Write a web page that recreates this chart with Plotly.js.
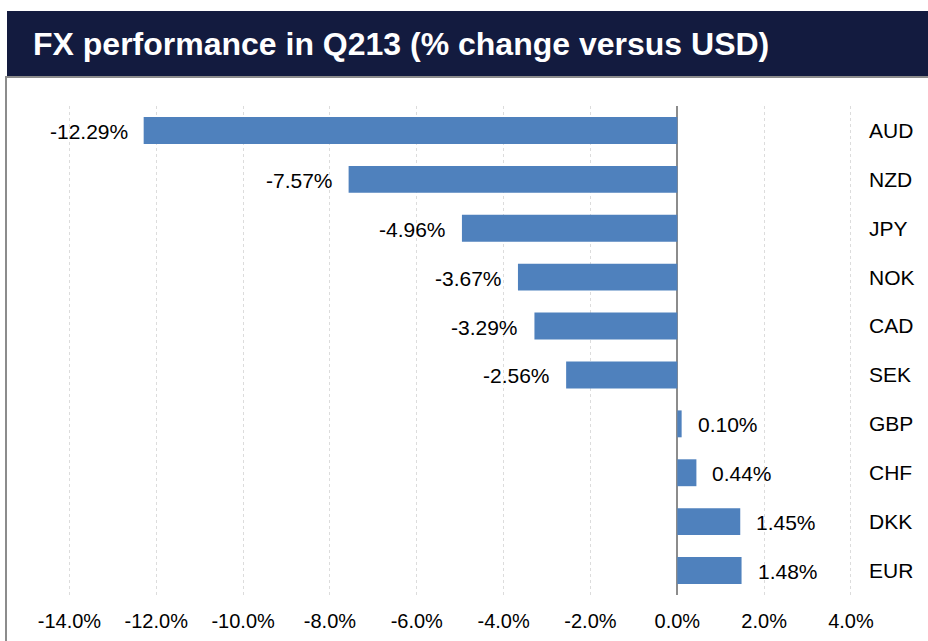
<!DOCTYPE html>
<html>
<head>
<meta charset="utf-8">
<script src="https://cdn.plot.ly/plotly-3.0.1.min.js"></script>
<style>
  html, body { margin: 0; padding: 0; background: #ffffff; }
  #chart { width: 928px; height: 641px; }
</style>
</head>
<body>
<div id="chart"></div>
<script>
// Data
const currencies = ["AUD", "NZD", "JPY", "NOK", "CAD", "SEK", "GBP", "CHF", "DKK", "EUR"];
const changePct = [-12.29, -7.57, -4.96, -3.67, -3.29, -2.56, 0.10, 0.44, 1.45, 1.48];
const xTickVals = [-14, -12, -10, -8, -6, -4, -2, 0, 2, 4];
const xTickText = xTickVals.map(v => v.toFixed(1) + '%');
const titleText = "FX performance in Q213 (% change versus USD)";

// Layout geometry (pixels)
const W = 928, H = 641;
const L = 26, R = 864, T = 106, B = 595;
const pw = R - L, ph = B - T;
const px = v => (v - L) / pw;
const py = v => (B - v) / ph;

const FONT = '"Liberation Sans", Arial, sans-serif';

const trace = {
  type: 'bar',
  orientation: 'h',
  x: changePct,
  y: currencies,
  width: 0.55,
  marker: { color: '#4F81BD', line: { width: 0 } },
  hoverinfo: 'x+y'
};

const annotations = changePct.map((v, i) => ({
  x: v,
  y: currencies[i],
  xref: 'x',
  yref: 'y',
  text: v.toFixed(2) + '%',
  showarrow: false,
  xanchor: v < 0 ? 'right' : 'left',
  xshift: v < 0 ? -14 : 14,
  yshift: -1,
  font: { family: FONT, size: 21, color: '#000000' }
}));

const layout = {
  width: W,
  height: H,
  margin: { l: L, r: W - R, t: T, b: H - B, pad: 0 },
  paper_bgcolor: '#ffffff',
  plot_bgcolor: '#ffffff',
  showlegend: false,
  title: {
    text: titleText,
    x: 33 / W,
    xanchor: 'left',
    xref: 'container',
    y: 1 - 44 / H,
    yanchor: 'middle',
    yref: 'container',
    font: { family: FONT, size: 32, color: '#ffffff', weight: 'bold' }
  },
  xaxis: {
    range: [-15, 4.3],
    tickmode: 'array',
    tickvals: xTickVals,
    ticktext: xTickText,
    showgrid: true,
    gridcolor: '#dcdcdc',
    griddash: 'dot',
    gridwidth: 1,
    zeroline: true,
    zerolinecolor: '#8c8c8c',
    zerolinewidth: 2,
    showline: false,
    ticks: '',
    ticklabelstandoff: 12,
    tickfont: { family: FONT, size: 20, color: '#000000' },
    fixedrange: true
  },
  yaxis: {
    type: 'category',
    categoryorder: 'array',
    categoryarray: currencies,
    range: [9.5, -0.5],
    side: 'right',
    showgrid: false,
    zeroline: false,
    showline: false,
    ticks: '',
    ticklabelstandoff: 4,
    tickfont: { family: FONT, size: 21, color: '#000000' },
    fixedrange: true
  },
  shapes: [
    {
      type: 'rect', xref: 'paper', yref: 'paper',
      x0: px(7), x1: px(930), y0: py(76), y1: py(11),
      fillcolor: '#131B3F', line: { width: 0 }, layer: 'below'
    },
    {
      type: 'line', xref: 'paper', yref: 'paper',
      x0: px(5), x1: px(930), y0: py(77), y1: py(77),
      line: { color: '#8c8c8c', width: 2 }
    },
    {
      type: 'line', xref: 'paper', yref: 'paper',
      x0: px(6), x1: px(6), y0: py(77), y1: py(645),
      line: { color: '#8c8c8c', width: 2 }
    }
  ],
  annotations: annotations
};

Plotly.newPlot('chart', [trace], layout, { displayModeBar: false, staticPlot: true });
</script>
</body>
</html>
